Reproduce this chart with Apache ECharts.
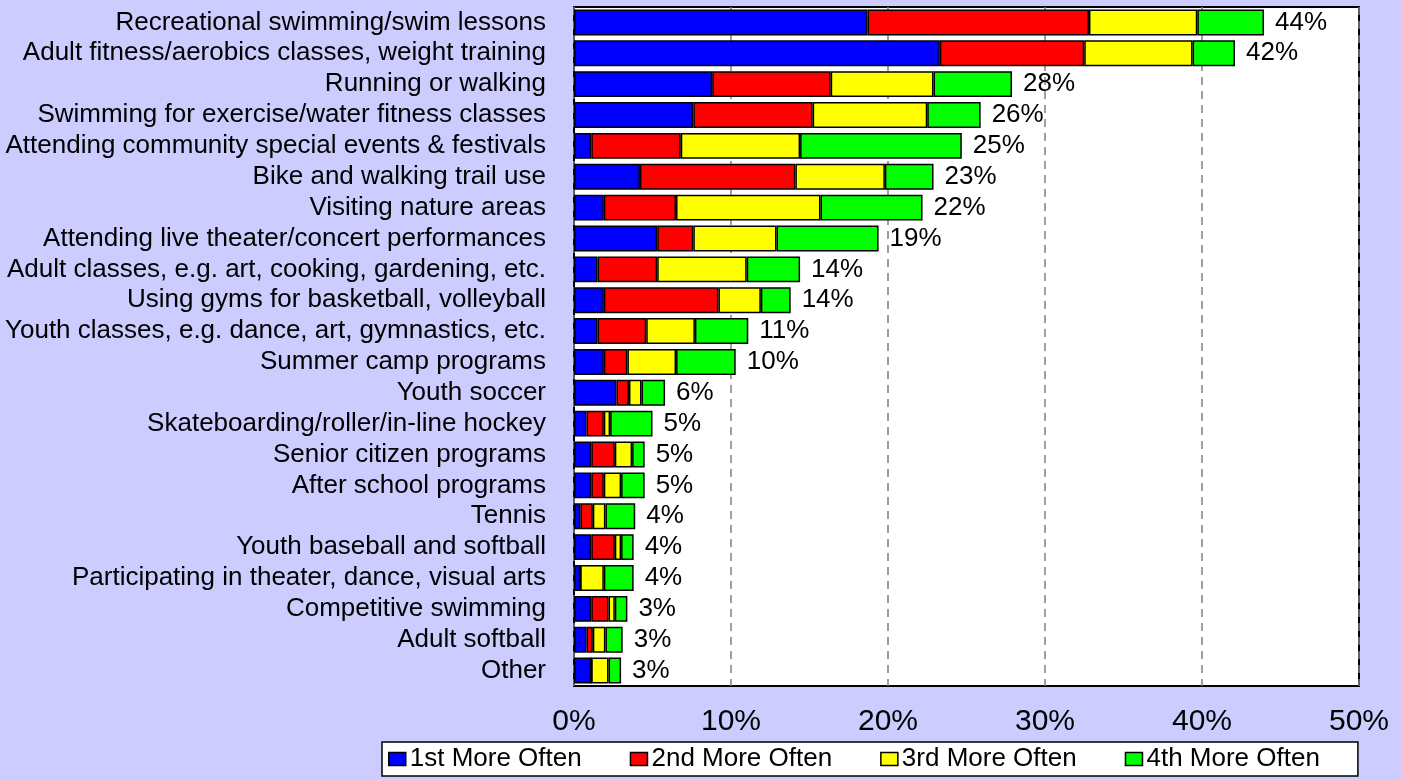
<!DOCTYPE html>
<html>
<head>
<meta charset="utf-8">
<script src="https://cdn.jsdelivr.net/npm/echarts@6/dist/echarts.min.js"></script>
<style>
html,body{margin:0;padding:0;background:#CCCCFF;}
#chart{width:1402px;height:779px;}
</style>
</head>
<body>
<div id="chart"></div>
<script>
const categories = [
  "Recreational swimming/swim lessons",
  "Adult fitness/aerobics classes, weight training",
  "Running or walking",
  "Swimming for exercise/water fitness classes",
  "Attending community special events & festivals",
  "Bike and walking trail use",
  "Visiting nature areas",
  "Attending live theater/concert performances",
  "Adult classes, e.g. art, cooking, gardening, etc.",
  "Using gyms for basketball, volleyball",
  "Youth classes, e.g. dance, art, gymnastics, etc.",
  "Summer camp programs",
  "Youth soccer",
  "Skateboarding/roller/in-line hockey",
  "Senior citizen programs",
  "After school programs",
  "Tennis",
  "Youth baseball and softball",
  "Participating in theater, dance, visual arts",
  "Competitive swimming",
  "Adult softball",
  "Other"
];
const seriesNames = ["1st More Often", "2nd More Often", "3rd More Often", "4th More Often"];
const first  = [18.7, 23.3, 8.8, 7.6, 1.1, 4.2, 1.9, 5.3, 1.5, 1.9, 1.5, 1.9, 2.7, 0.8, 1.1, 1.1, 0.4, 1.1, 0.4, 1.1, 0.8, 1.1];
const second = [14.1, 9.2, 7.55, 7.6, 5.7, 9.9, 4.6, 2.3, 3.8, 7.3, 3.1, 1.5, 0.8, 1.1, 1.5, 0.8, 0.8, 1.5, 0, 1.1, 0.4, 0];
const third  = [6.9, 6.9, 6.55, 7.3, 7.6, 5.7, 9.2, 5.3, 5.7, 2.7, 3.1, 3.1, 0.8, 0.4, 1.1, 1.1, 0.8, 0.4, 1.5, 0.4, 0.8, 1.1];
const fourth = [4.25, 2.7, 5.0, 3.4, 10.3, 3.1, 6.5, 6.5, 3.4, 1.9, 3.4, 3.8, 1.5, 2.7, 0.8, 1.5, 1.9, 0.8, 1.9, 0.8, 1.1, 0.8];
const totals = [44, 42, 28, 26, 25, 23, 22, 19, 14, 14, 11, 10, 6, 5, 5, 5, 4, 4, 4, 3, 3, 3];
const colors = ["#0000FF", "#FF0000", "#FFFF00", "#00FF00"];

const FONT = "Liberation Sans, Arial, sans-serif";
const chart = echarts.init(document.getElementById('chart'), null, {renderer: 'canvas'});
const allData = [first, second, third, fourth];
const series = allData.map((d, i) => ({
  name: seriesNames[i],
  type: 'bar',
  stack: 'total',
  data: d,
  barCategoryGap: '16%',
  itemStyle: {color: colors[i], borderColor: '#000', borderWidth: 1.5},
  emphasis: {disabled: true},
  label: i === 3 ? {
    show: true,
    position: 'right',
    distance: 11,
    color: '#000',
    fontFamily: FONT,
    fontSize: 26,
    formatter: p => totals[p.dataIndex] + '%'
  } : {show: false}
}));

chart.setOption({
  backgroundColor: '#CCCCFF',
  animation: false,
  textStyle: {fontFamily: FONT},
  grid: {
    left: 574, right: 43, top: 7, bottom: 93,
    show: true, backgroundColor: '#FFFFFF', borderColor: '#000', borderWidth: 2,
    containLabel: false
  },
  legend: {
    data: seriesNames,
    left: 382, top: 742,
    orient: 'horizontal',
    backgroundColor: '#FFFFFF',
    borderColor: '#000', borderWidth: 1.5,
    padding: [4, 38, 4, 6],
    itemWidth: 17, itemHeight: 13, itemGap: 48,
    icon: 'rect',
    itemStyle: {borderColor: '#000', borderWidth: 1.5},
    textStyle: {fontFamily: FONT, fontSize: 26, color: '#000', padding: [0, 0, 0, -1]}
  },
  xAxis: {
    type: 'value',
    min: 0, max: 50, interval: 10,
    axisLine: {show: false},
    axisTick: {show: false},
    axisLabel: {formatter: '{value}%', color: '#000', fontFamily: FONT, fontSize: 30, margin: 21},
    splitLine: {show: true, lineStyle: {color: '#808080', type: [8, 6], width: 1.5}}
  },
  yAxis: {
    type: 'category',
    data: categories,
    inverse: true,
    axisLine: {show: false},
    axisTick: {show: false},
    axisLabel: {interval: 0, color: '#000', fontFamily: FONT, fontSize: 26, margin: 28}
  },
  series: series
});
</script>
</body>
</html>
